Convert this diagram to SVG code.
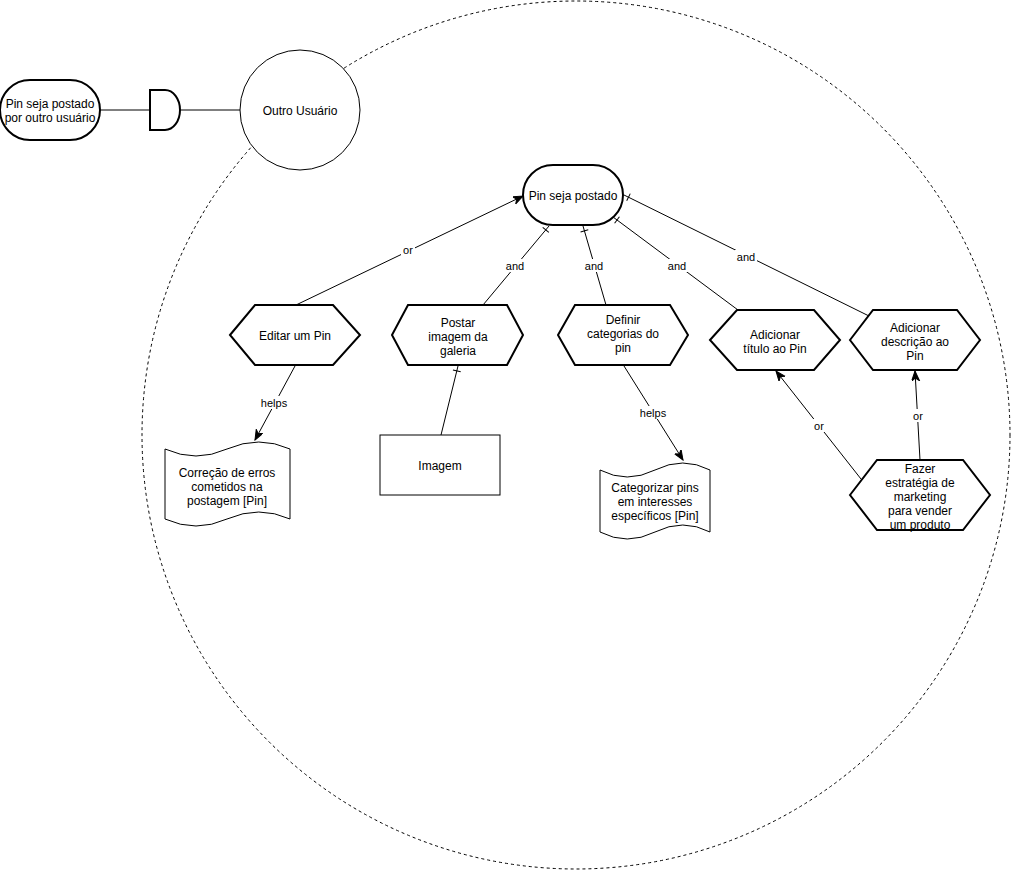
<svg xmlns="http://www.w3.org/2000/svg" width="1012" height="870" viewBox="0 0 1012 870">
<defs>
<style>
text{font-family:"Liberation Sans",Arial,sans-serif;font-size:12px;fill:#000;text-anchor:middle;dominant-baseline:central}
.lbl{font-size:11px}
.thick{fill:#fff;stroke:#000;stroke-width:2}
.thin{fill:#fff;stroke:#000;stroke-width:1}
.edge{fill:none;stroke:#000;stroke-width:1}
.bg{fill:#fff;stroke:none}
</style>
<marker id="arrow" markerUnits="userSpaceOnUse" markerWidth="11" markerHeight="9" refX="10" refY="4" orient="auto">
<path d="M0,0 L10,4 L0,8 L3,4 Z" fill="#000" stroke="#000" stroke-width="1"/>
</marker>
<marker id="tick" markerUnits="userSpaceOnUse" markerWidth="10" markerHeight="10" refX="10" refY="5" orient="auto">
<path d="M5,1 L5,9" stroke="#000" stroke-width="1" fill="none"/>
</marker>
</defs>
<rect width="1012" height="870" fill="#fff"/>

<g id="boundary">
<ellipse cx="576" cy="435" rx="434" ry="434" fill="none" stroke="#000" stroke-width="1" stroke-dasharray="3,3"/>
</g>

<g id="connectors">
<line class="edge" x1="100" y1="110" x2="150" y2="110"/>
<line class="edge" x1="180" y1="110" x2="240" y2="110"/>
<line class="edge" x1="296" y1="305" x2="523" y2="196" marker-end="url(#arrow)"/>
<line class="edge" x1="483" y1="305" x2="549" y2="226" marker-end="url(#tick)"/>
<line class="edge" x1="606" y1="305" x2="583" y2="226" marker-end="url(#tick)"/>
<line class="edge" x1="738" y1="310" x2="613" y2="217" marker-end="url(#tick)"/>
<line class="edge" x1="869" y1="316" x2="624" y2="195" marker-end="url(#tick)"/>
<line class="edge" x1="295" y1="366" x2="255" y2="440" marker-end="url(#arrow)"/>
<line class="edge" x1="441" y1="435" x2="458" y2="366" marker-end="url(#tick)"/>
<line class="edge" x1="624" y1="366" x2="683" y2="460" marker-end="url(#arrow)"/>
<line class="edge" x1="861" y1="479" x2="776" y2="371" marker-end="url(#arrow)"/>
<line class="edge" x1="920" y1="460" x2="915" y2="371" marker-end="url(#arrow)"/>
<g id="edge-labels">
<rect class="bg" x="401" y="243" width="14" height="13"/><text class="lbl" x="408" y="250">or</text>
<rect class="bg" x="504" y="259" width="22" height="13"/><text class="lbl" x="515" y="266">and</text>
<rect class="bg" x="583" y="259" width="22" height="13"/><text class="lbl" x="594" y="266">and</text>
<rect class="bg" x="666" y="259" width="22" height="13"/><text class="lbl" x="677" y="266">and</text>
<rect class="bg" x="735" y="250" width="22" height="13"/><text class="lbl" x="746" y="257">and</text>
<rect class="bg" x="260" y="396" width="28" height="13"/><text class="lbl" x="274" y="403">helps</text>
<rect class="bg" x="639" y="406" width="28" height="13"/><text class="lbl" x="653" y="413">helps</text>
<rect class="bg" x="812" y="419" width="14" height="13"/><text class="lbl" x="819" y="426">or</text>
<rect class="bg" x="911" y="409" width="14" height="13"/><text class="lbl" x="918" y="416">or</text>
</g>
</g>

<g id="pin-outro-usuario">
<rect class="thick" x="0" y="80" width="100" height="60" rx="30" ry="30"/>
<text x="50" y="104">Pin seja postado</text>
<text x="50" y="118">por outro usuário</text>
</g>

<g id="and-gate">
<path class="thick" d="M150,90 L165,90 A15,20 0 0 1 165,130 L150,130 Z"/>
</g>

<g id="outro-usuario">
<circle class="thin" cx="300" cy="110" r="60"/>
<text x="300" y="111">Outro Usuário</text>
</g>

<g id="pin-seja-postado">
<rect class="thick" x="523" y="165" width="100" height="60" rx="30" ry="30"/>
<text x="573" y="196">Pin seja postado</text>
</g>

<g id="editar-pin">
<polygon class="thick" points="230,335 255,305 333,305 360,335 333,365 255,365"/>
<text x="295" y="336">Editar um Pin</text>
</g>

<g id="postar-imagem">
<polygon class="thick" points="392,335 408,305 507,305 523,335 507,365 408,365"/>
<text x="458" y="323">Postar</text>
<text x="458" y="337">imagem da</text>
<text x="458" y="351">galeria</text>
</g>

<g id="definir-categorias">
<polygon class="thick" points="558,335 575,305 670,305 688,335 670,365 575,365"/>
<text x="623" y="320">Definir</text>
<text x="623" y="334">categorias do</text>
<text x="623" y="348">pin</text>
</g>

<g id="adicionar-titulo">
<polygon class="thick" points="710,340 737,310 814,310 840,340 814,370 737,370"/>
<text x="775" y="335">Adicionar</text>
<text x="775" y="349">título ao Pin</text>
</g>

<g id="adicionar-descricao">
<polygon class="thick" points="850,340 873,310 957,310 980,340 957,370 873,370"/>
<text x="915" y="328">Adicionar</text>
<text x="915" y="342">descrição ao</text>
<text x="915" y="356">Pin</text>
</g>

<g id="fazer-estrategia">
<polygon class="thick" points="850,495 877,460 963,460 990,495 963,530 877,530"/>
<text x="920" y="469">Fazer</text>
<text x="920" y="483">estratégia de</text>
<text x="920" y="497">marketing</text>
<text x="920" y="511">para vender</text>
<text x="920" y="525">um produto</text>
</g>

<g id="correcao-erros">
<path class="thin" d="M165,449 Q196,463 227,449 Q259,435 290,449 L290,519 Q259,505 227,519 Q196,533 165,519 Z"/>
<text x="227" y="473">Correção de erros</text>
<text x="227" y="487">cometidos na</text>
<text x="227" y="501">postagem [Pin]</text>
</g>

<g id="imagem">
<rect class="thin" x="380" y="435" width="120" height="60"/>
<text x="440" y="466">Imagem</text>
</g>

<g id="categorizar-pins">
<path class="thin" d="M600,470 Q627,484 655,470 Q683,456 710,470 L710,532 Q683,518 655,532 Q627,546 600,532 Z"/>
<text x="655" y="488">Categorizar pins</text>
<text x="655" y="502">em interesses</text>
<text x="655" y="516">específicos [Pin]</text>
</g>
</svg>
